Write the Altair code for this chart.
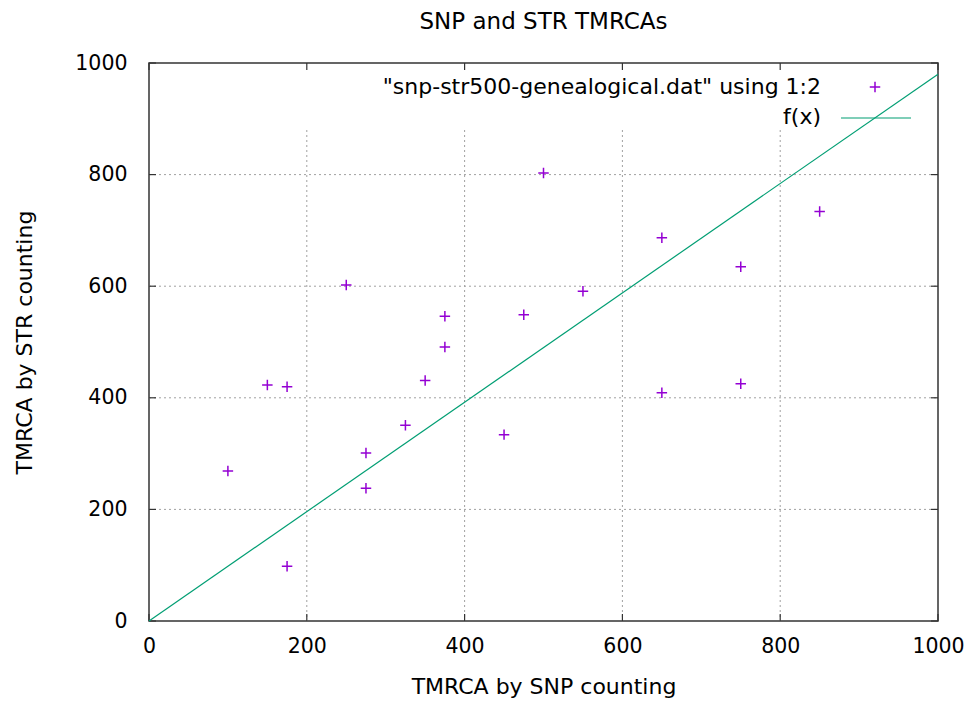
import altair as alt
import pandas as pd

# ---- data ----
snp_tmrca = [100, 150, 175, 175, 250, 275, 275, 325, 350, 375,
             375, 450, 475, 500, 550, 650, 650, 750, 750, 850]
str_tmrca = [269, 423, 420, 98, 602, 301, 238, 351, 431, 546,
             491, 334, 549, 803, 591, 687, 409, 635, 425, 734]

fx_x = [0, 1000]
fx_y = [0, 980]

tick_values = [0, 200, 400, 600, 800, 1000]
grid_values = [200, 400, 600, 800]

legend_labels = ['"snp-str500-genealogical.dat" using 1:2', "f(x)"]
title_text = "SNP and STR TMRCAs"
x_title = "TMRCA by SNP counting"
y_title = "TMRCA by STR counting"

# ---- layout ----
W, H = 789, 558
FONT = "DejaVu Sans"
PURPLE = "#9400D3"
GREEN = "#009E73"
GRID = "#a0a0a0"
BORDER = "#333333"
TICK = 7
KEY_BOTTOM = 67  # pixel row where the key box ends (grid blanked above)
KEY_X = 672

pts = pd.DataFrame({"snp": snp_tmrca, "str": str_tmrca})
fx = pd.DataFrame({"snp": fx_x, "str": fx_y})
ticks = pd.DataFrame({"v": tick_values})
grid = pd.DataFrame({"v": grid_values})
one = pd.DataFrame({"k": [0]})

xs = alt.Scale(domain=[0, 1000], nice=False, zero=False)
ys = alt.Scale(domain=[0, 1000], nice=False, zero=False)

axis_common = dict(values=tick_values, format="d", grid=False, ticks=False,
                   tickSize=0, domain=False, labelFlush=False, labelOverlap=False,
                   labelFont=FONT, labelFontSize=20.5, labelColor="#000",
                   titleFont=FONT, titleFontWeight="normal", titleColor="#000",
                   titleFontSize=22)
x_axis = alt.Axis(title=x_title, labelPadding=15, titlePadding=20, **axis_common)
y_axis = alt.Axis(title=y_title, labelPadding=22, titlePadding=38, **axis_common)


def X(field):
    return alt.X(field, scale=xs, axis=x_axis)


def Y(field):
    return alt.Y(field, scale=ys, axis=y_axis)


hgrid = alt.Chart(grid).mark_rule(color=GRID, strokeDash=[2, 3], strokeWidth=1).encode(
    y=Y("v:Q"), x=alt.value(0), x2=alt.value(W))
vgrid = alt.Chart(grid).mark_rule(color=GRID, strokeDash=[2, 3], strokeWidth=1).encode(
    x=X("v:Q"), y=alt.value(KEY_BOTTOM), y2=alt.value(H))

tk = dict(color=BORDER, strokeWidth=1.2)
tick_bottom = alt.Chart(ticks).mark_rule(**tk).encode(
    x=X("v:Q"), y=alt.value(H), y2=alt.value(H - TICK))
tick_top = alt.Chart(ticks).mark_rule(**tk).encode(
    x=X("v:Q"), y=alt.value(0), y2=alt.value(TICK))
tick_left = alt.Chart(ticks).mark_rule(**tk).encode(
    y=Y("v:Q"), x=alt.value(0), x2=alt.value(TICK))
tick_right = alt.Chart(ticks).mark_rule(**tk).encode(
    y=Y("v:Q"), x=alt.value(W - TICK), x2=alt.value(W))

line = alt.Chart(fx).mark_line(color=GREEN, strokeWidth=1.2).encode(
    x=X("snp:Q"), y=Y("str:Q"))

PLUS = "M-1,0L1,0M0,-1L0,1"
points = alt.Chart(pts).mark_point(shape=PLUS, filled=False, stroke=PURPLE,
                                   strokeWidth=1.5, size=110, opacity=1).encode(
    x=X("snp:Q"), y=Y("str:Q"))

key_text1 = alt.Chart(one).mark_text(text=legend_labels[0], align="right", baseline="middle",
                                     font=FONT, fontSize=22, color="#000").encode(
    x=alt.value(KEY_X), y=alt.value(24))
key_text2 = alt.Chart(one).mark_text(text=legend_labels[1], align="right", baseline="middle",
                                     font=FONT, fontSize=22, color="#000").encode(
    x=alt.value(KEY_X), y=alt.value(54))
key_sym = alt.Chart(one).mark_point(shape=PLUS, filled=False, stroke=PURPLE,
                                    strokeWidth=1.5, size=110, opacity=1).encode(
    x=alt.value(726), y=alt.value(24))
key_line = alt.Chart(one).mark_rule(color=GREEN, strokeWidth=1.2).encode(
    x=alt.value(692), x2=alt.value(762), y=alt.value(55))

chart = alt.layer(
    hgrid, vgrid, tick_bottom, tick_top, tick_left, tick_right,
    line, points, key_text1, key_text2, key_sym, key_line
).properties(
    width=W, height=H,
    title=alt.TitleParams(title_text, font=FONT, fontSize=23, fontWeight="normal",
                          color="#000", anchor="middle", offset=19),
    autosize=alt.AutoSizeParams(type="none"),
    padding={"left": 141, "top": 55, "right": 27, "bottom": 77},
).configure_view(
    stroke=BORDER, strokeWidth=1.5
)

chart.save("out.html", embed_options={"renderer": "svg", "actions": False})
